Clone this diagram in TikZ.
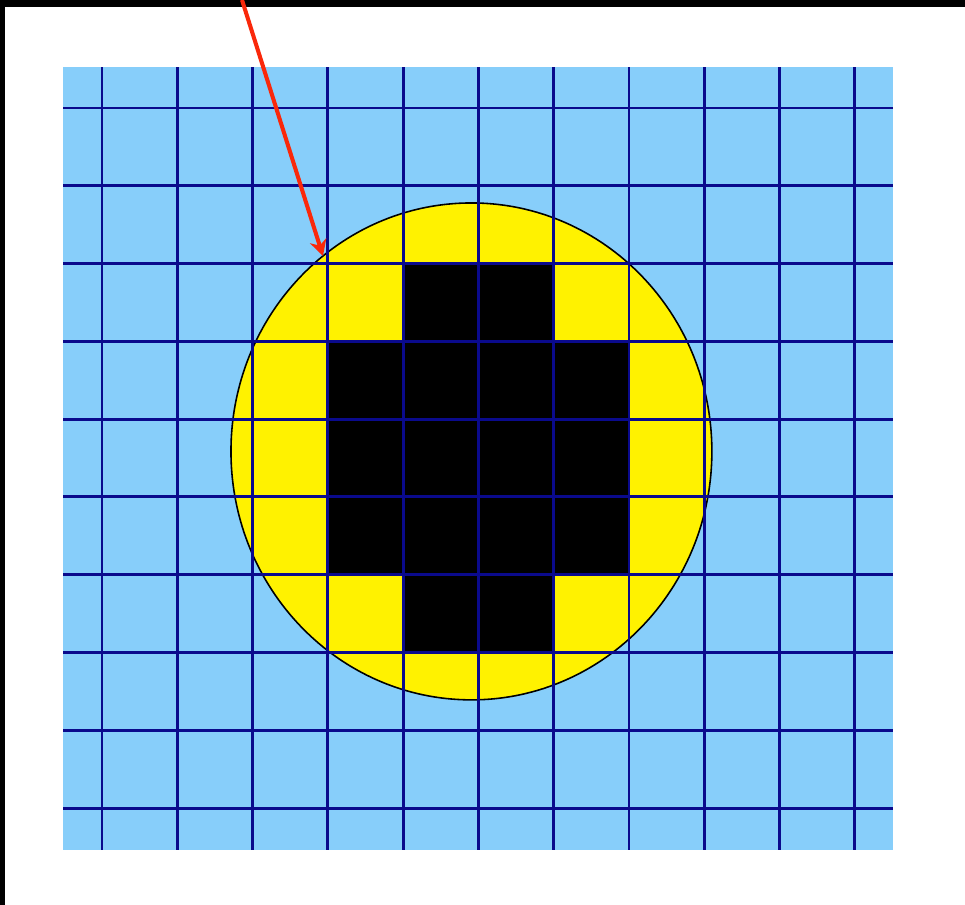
\documentclass[tikz,border=0pt]{standalone}
\usepackage{xcolor}
\usepackage{tikz}
\usetikzlibrary{arrows.meta}

\definecolor{skyfill}{RGB}{135,206,250}
\definecolor{gridnavy}{RGB}{10,10,140}
\definecolor{pointred}{RGB}{250,40,10}

\begin{document}
\begin{tikzpicture}[
    x=0.02cm, y=-0.02cm,
    band/.style={fill=black},
    gridline/.style={draw=gridnavy,line width=1.7pt},
    disc/.style={fill=yellow,draw=black,line width=0.9pt},
    cell/.style={fill=black},
    pointer/.style={draw=pointred,line width=2.3pt,-{Stealth[length=3.2mm,width=3.4mm]}}
  ]
  \useasboundingbox (0,0) rectangle (965,905);
  \fill[white] (0,0) rectangle (965,905);
  \fill[band] (0,0) rectangle (965,7);
  \fill[band] (0,0) rectangle (5,905);

  % grid in cell units, origin at the first grid crossing
  \begin{scope}[shift={(102,108)}, x=1.506cm, y=-1.556cm]
    \fill[skyfill] (-0.518,-0.527) rectangle (10.505,9.537);
    \draw[disc] (4.907,4.415) ellipse [x radius=4.81cm, y radius=4.97cm];
    \foreach \c/\r in {4/2,5/2,3/3,4/3,5/3,6/3,3/4,4/4,5/4,6/4,
                       3/5,4/5,5/5,6/5,4/6,5/6}
      \fill[cell] (\c,\r) rectangle (\c+1,\r+1);
    \foreach \i in {0,...,10}
      \draw[gridline] (\i,-0.527) -- (\i,9.537);
    \foreach \j in {0,...,9}
      \draw[gridline] (-0.518,\j) -- (10.505,\j);
  \end{scope}

  \coordinate (arrowtail) at (242,0);
  \coordinate (arrowtip) at (323,256);
  \draw[pointer] (arrowtail) -- (arrowtip);
\end{tikzpicture}
\end{document}
